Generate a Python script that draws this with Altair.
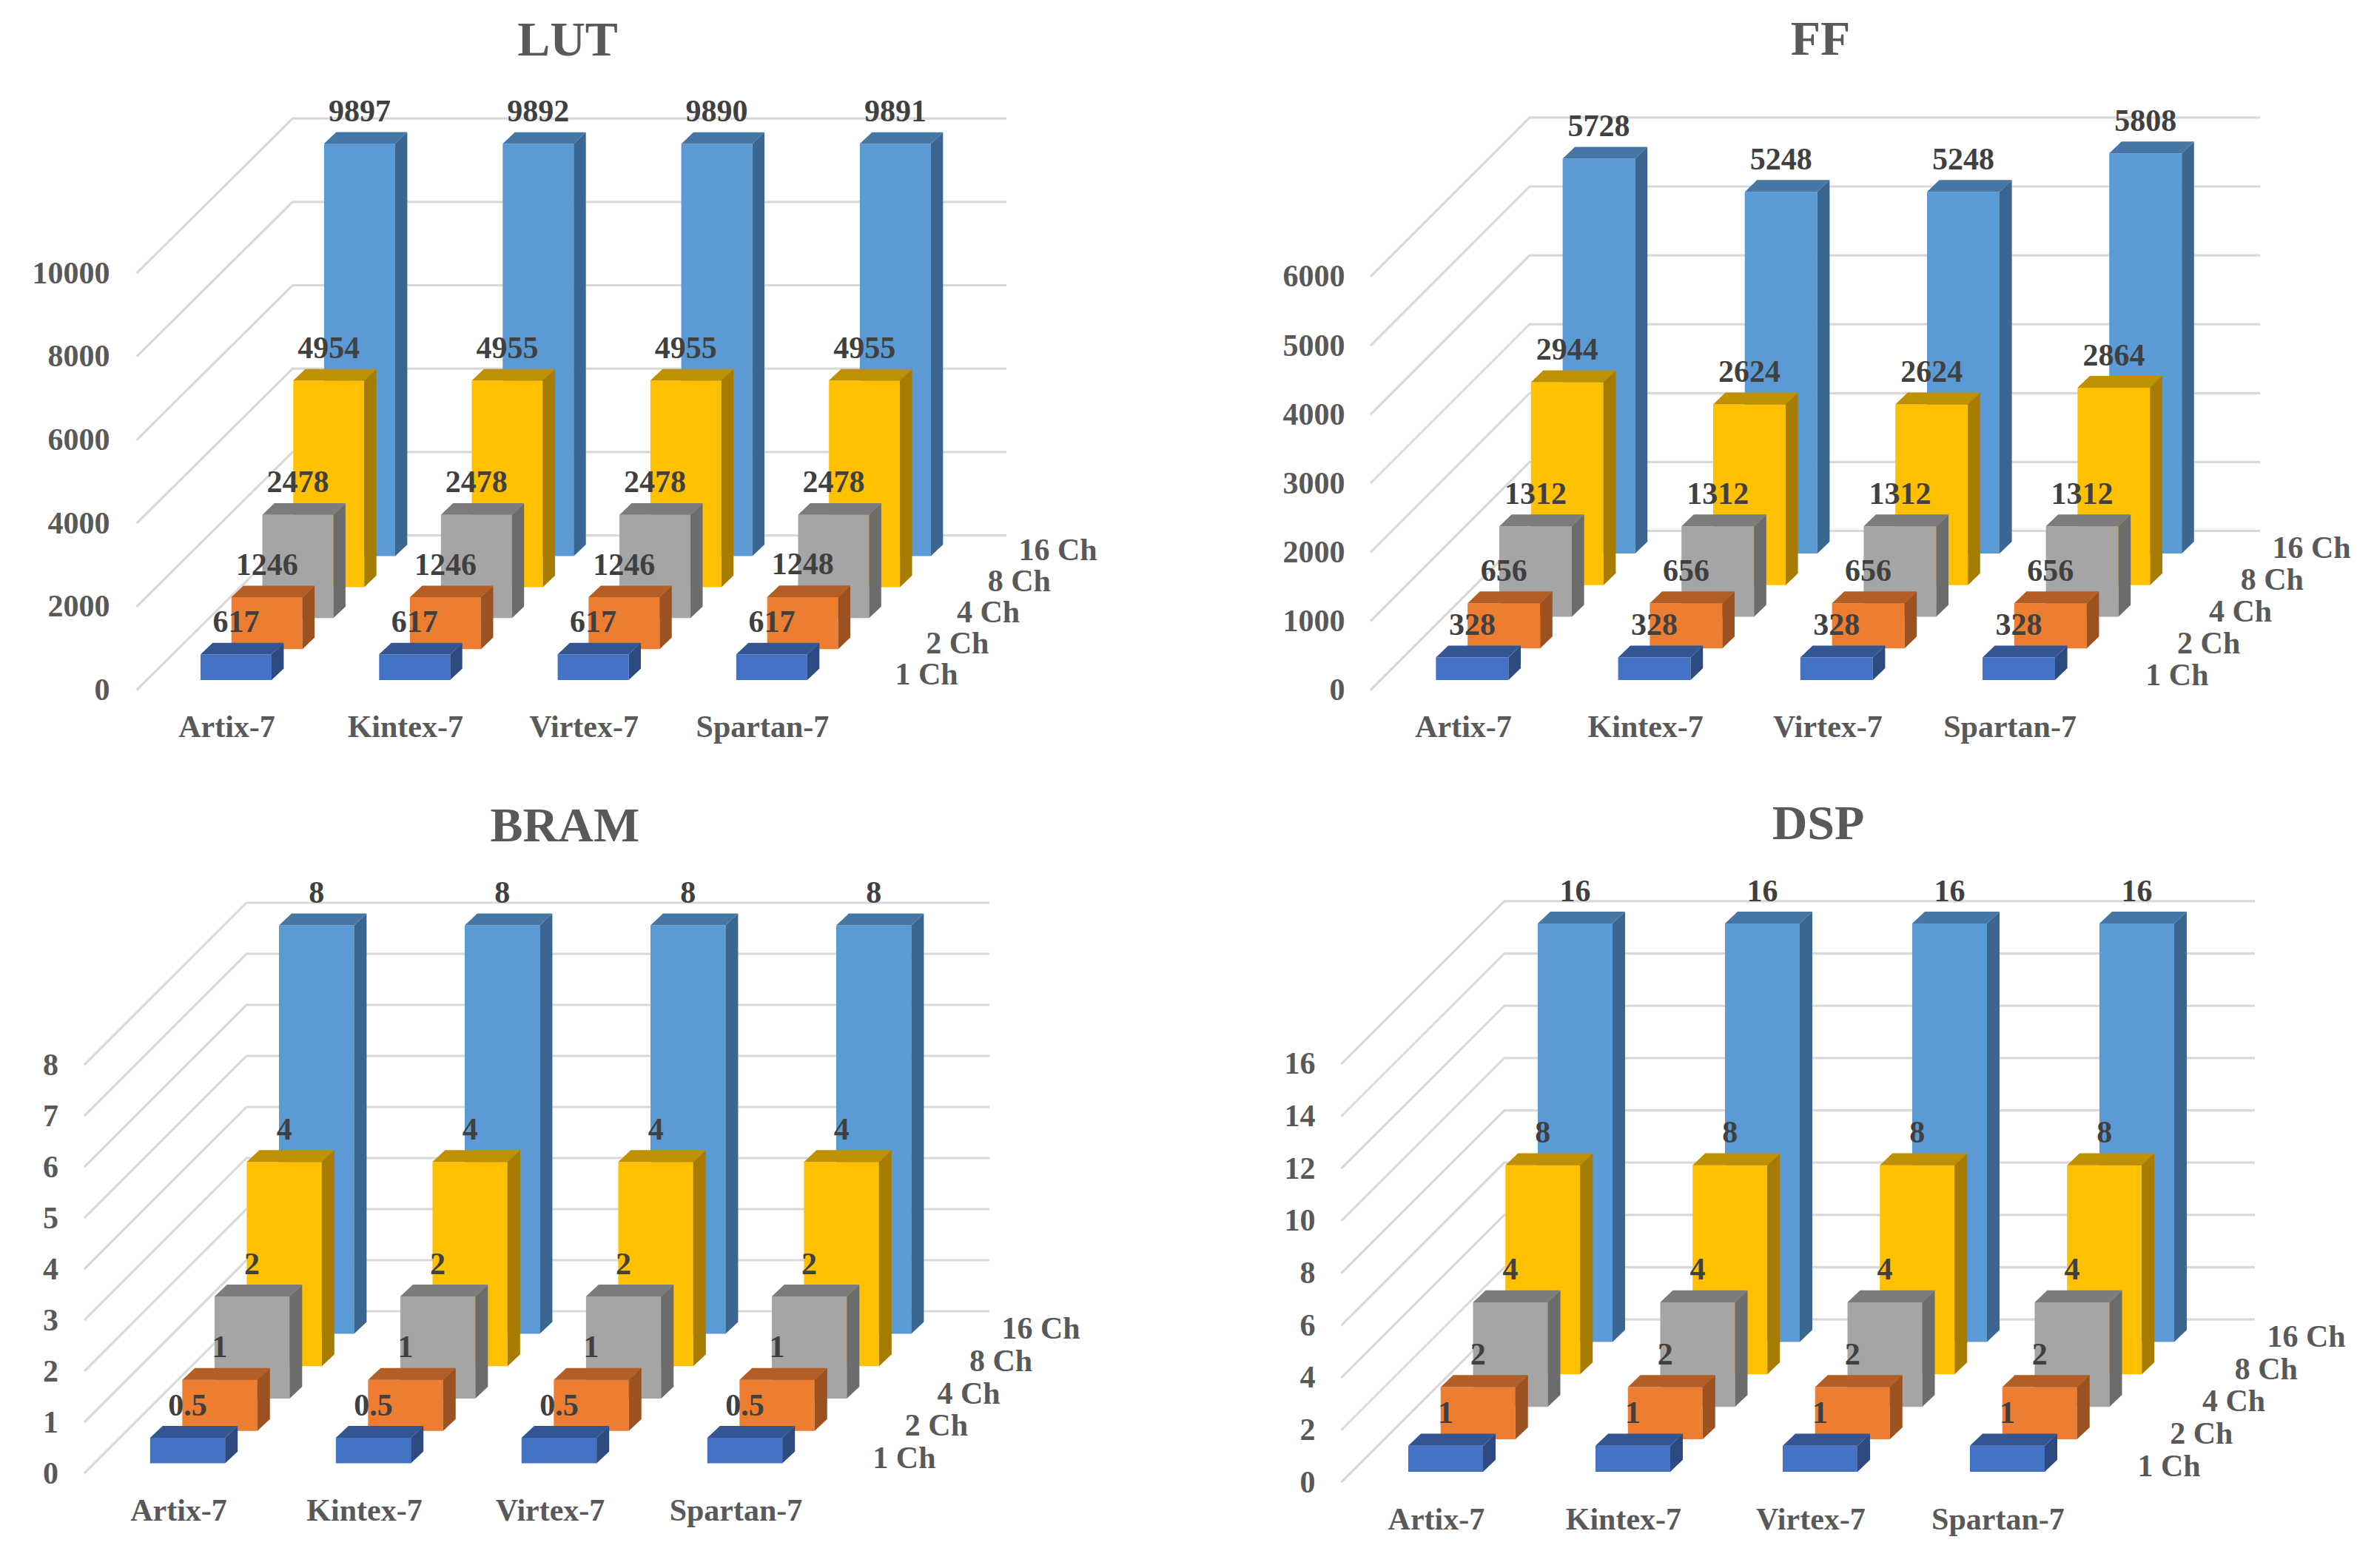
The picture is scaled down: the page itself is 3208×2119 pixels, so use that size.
import altair as alt
import pandas as pd

CATEGORIES = ["Artix-7", "Kintex-7", "Virtex-7", "Spartan-7"]
SERIES = ["1 Ch", "2 Ch", "4 Ch", "8 Ch", "16 Ch"]

LUT_VALUES = [[617, 617, 617, 617], [1246, 1246, 1246, 1248], [2478, 2478, 2478, 2478],
              [4954, 4955, 4955, 4955], [9897, 9892, 9890, 9891]]
FF_VALUES = [[328, 328, 328, 328], [656, 656, 656, 656], [1312, 1312, 1312, 1312],
             [2944, 2624, 2624, 2864], [5728, 5248, 5248, 5808]]
BRAM_VALUES = [[0.5, 0.5, 0.5, 0.5], [1, 1, 1, 1], [2, 2, 2, 2], [4, 4, 4, 4], [8, 8, 8, 8]]
DSP_VALUES = [[1, 1, 1, 1], [2, 2, 2, 2], [4, 4, 4, 4], [8, 8, 8, 8], [16, 16, 16, 16]]

LUT_TICKS = [0, 2000, 4000, 6000, 8000, 10000]
FF_TICKS = [0, 1000, 2000, 3000, 4000, 5000, 6000]
BRAM_TICKS = [0, 1, 2, 3, 4, 5, 6, 7, 8]
DSP_TICKS = [0, 2, 4, 6, 8, 10, 12, 14, 16]

FACE = ["#4472C4", "#ED7D31", "#A5A5A5", "#FFC000", "#5B9BD5"]
SIDE = ["#2D4B80", "#9B5220", "#6C6C6C", "#A67D00", "#3A6690"]
TOP = ["#335693", "#B25E25", "#7C7C7C", "#BF9000", "#4676A3"]

FONT = "Liberation Serif"
AXIS_GREY = "#595959"
LABEL_GREY = "#404040"
GRID = "#D9D9D9"
VIEW_W = 1596
VIEW_H = 970


def panel(name, values, ticks, g, left, top):
    k, cat = g["k"], g["cat"]
    xd = lambda px: (px - g["bar_x"]) / cat
    xs = alt.Scale(domain=[xd(left), xd(left + VIEW_W)], nice=False, zero=False)
    ys = alt.Scale(domain=[(g["y0"] - (top + VIEW_H)) / k, (g["y0"] - top) / k], nice=False, zero=False)

    x_axis = alt.Axis(
        values=[c + g["lab_dx"] / cat for c in range(len(CATEGORIES))],
        labelExpr="%s[round(datum.value - (%f))]" % (CATEGORIES, g["lab_dx"] / cat),
        title=None, domain=False, ticks=False, tickSize=0, grid=False, labelAngle=0,
        labelPadding=0, labelBaseline="middle", labelAlign="center", labelFont=FONT,
        labelFontSize=42, labelFontWeight="bold", labelColor=AXIS_GREY, labelOverlap=False,
        labelFlush=False, offset=-(top + VIEW_H - g["cat_y"]),
    )
    y_axis = alt.Axis(
        values=ticks, format="d", title=None, domain=False, ticks=False, tickSize=0, grid=False,
        labelPadding=0, labelFont=FONT, labelFontSize=42, labelFontWeight="bold",
        labelColor=AXIS_GREY, labelOverlap=False, labelFlush=False, offset=-(g["tick_r"] - left),
    )
    X = alt.X("x:Q", scale=xs, axis=x_axis)
    Y = alt.Y("y:Q", scale=ys, axis=y_axis)

    # floor / back wall grid
    depth_y = g["depth"]
    grid = []
    for t in ticks:
        grid += [
            {"t": t, "x": xd(g["front_x"]), "y": t},
            {"t": t, "x": xd(g["back_x"]), "y": t + depth_y / k},
            {"t": t, "x": xd(g["right"]), "y": t + depth_y / k},
        ]
    layers = [
        alt.Chart(pd.DataFrame(grid)).mark_line(color=GRID, strokeWidth=3.2).encode(x=X, y=Y, detail="t:N")
    ]

    w, bx, by = g["w"] / cat, g["dep_x"] / cat, g["dep_y"] / k
    labels = []
    for s in range(len(SERIES) - 1, -1, -1):
        faces, sides, tops = [], [], []
        for c in range(len(CATEGORIES)):
            v = values[s][c]
            x0 = c + s * g["sx"] / cat
            x1 = x0 + w
            base = (g["gap"] + s * g["sy"]) / k
            head = base + v
            faces.append({"x": x0, "x2": x1, "y": base, "y2": head})
            sides += [
                {"c": c, "x": x1, "y": base, "y2": head},
                {"c": c, "x": x1 + bx, "y": base + by, "y2": head + by},
            ]
            tops += [
                {"c": c, "x": x0, "y": head, "y2": head},
                {"c": c, "x": x0 + bx, "y": head, "y2": head + by},
                {"c": c, "x": x1, "y": head, "y2": head + by},
                {"c": c, "x": x1 + bx, "y": head + by, "y2": head + by},
            ]
            labels.append({"x": (x0 + x1) / 2, "y": head, "label": str(v)})
        layers.append(alt.Chart(pd.DataFrame(faces)).mark_rect(color=FACE[s]).encode(x=X, x2="x2:Q", y=Y, y2="y2:Q"))
        for rows, colour in ((sides, SIDE[s]), (tops, TOP[s])):
            layers.append(alt.Chart(pd.DataFrame(rows)).mark_area(color=colour, orient="vertical").encode(
                x=X, y=Y, y2="y2:Q", detail="c:N"))

    layers.append(alt.Chart(pd.DataFrame(labels)).mark_text(
        font=FONT, fontSize=42, fontWeight="bold", color=LABEL_GREY, dy=-43.5, baseline="middle"
    ).encode(x=X, y=Y, text="label:N"))

    series_rows = [
        {"x": xd(g["right"] - (len(SERIES) - 1 - s) * g["sx"] + 16.5),
         "y": (g["sl"] + s * g["sy"]) / k, "label": SERIES[s]}
        for s in range(len(SERIES))
    ]
    layers.append(alt.Chart(pd.DataFrame(series_rows)).mark_text(
        font=FONT, fontSize=42, fontWeight="bold", color=AXIS_GREY, align="left", baseline="middle"
    ).encode(x=X, y=Y, text="label:N"))

    return alt.layer(*layers).properties(
        width=VIEW_W, height=VIEW_H,
        title=alt.TitleParams(
            text=name, font=FONT, fontSize=66, fontWeight="bold", color=AXIS_GREY, anchor="middle",
            dx=g["title_x"] - (left + VIEW_W / 2), dy=g["title_dy"], offset=0),
    )


COL_L = [8, 8 + VIEW_W]
ROW_T = [90, 1142]

GEOM = {
    "LUT": dict(k=0.05633, cat=241.3, bar_x=271, w=96, sx=41.75, sy=41.9, gap=13.4, dep_x=16.4, dep_y=15.6,
                y0=932, front_x=184.7, back_x=395.4, right=1360, depth=209, lab_dx=35, cat_y=982,
                tick_r=148, sl=21, title_x=767, title_dy=-2),
    "FF": dict(k=0.0931, cat=246.2, bar_x=1940.4, w=98, sx=42.8, sy=42.8, gap=13.4, dep_x=16.6, dep_y=16,
               y0=932, front_x=1852, back_x=2067, right=3054, depth=215, lab_dx=36.6, cat_y=982,
               tick_r=1817, sl=20, title_x=2460, title_dy=-3),
    "BRAM": dict(k=69.0, cat=251, bar_x=202.8, w=101.4, sx=43.55, sy=43.75, gap=13.4, dep_x=17, dep_y=16.2,
                 y0=1992, front_x=114, back_x=333, right=1337, depth=219, lab_dx=38.2, cat_y=2042.7,
                 tick_r=78.5, sl=20, title_x=763.4, title_dy=10),
    "DSP": dict(k=35.33, cat=253, bar_x=1903, w=101, sx=43.75, sy=43.9, gap=14.2, dep_x=17, dep_y=16.2,
                y0=2004.2, front_x=1812.5, back_x=2032.8, right=3047, depth=220, lab_dx=37.4, cat_y=2054,
                tick_r=1777, sl=21, title_x=2457, title_dy=7),
}

lut = panel("LUT", LUT_VALUES, LUT_TICKS, GEOM["LUT"], COL_L[0], ROW_T[0])
ff = panel("FF", FF_VALUES, FF_TICKS, GEOM["FF"], COL_L[1], ROW_T[0])
bram = panel("BRAM", BRAM_VALUES, BRAM_TICKS, GEOM["BRAM"], COL_L[0], ROW_T[1])
dsp = panel("DSP", DSP_VALUES, DSP_TICKS, GEOM["DSP"], COL_L[1], ROW_T[1])

chart = alt.concat(lut, ff, bram, dsp, columns=2, spacing={"row": 20.5, "column": 0}).properties(
    padding={"top": 12.5, "left": 0, "right": 0, "bottom": 0}
).configure_view(strokeWidth=0)
chart.save("out.html", embed_options={"renderer": "svg", "actions": False})
